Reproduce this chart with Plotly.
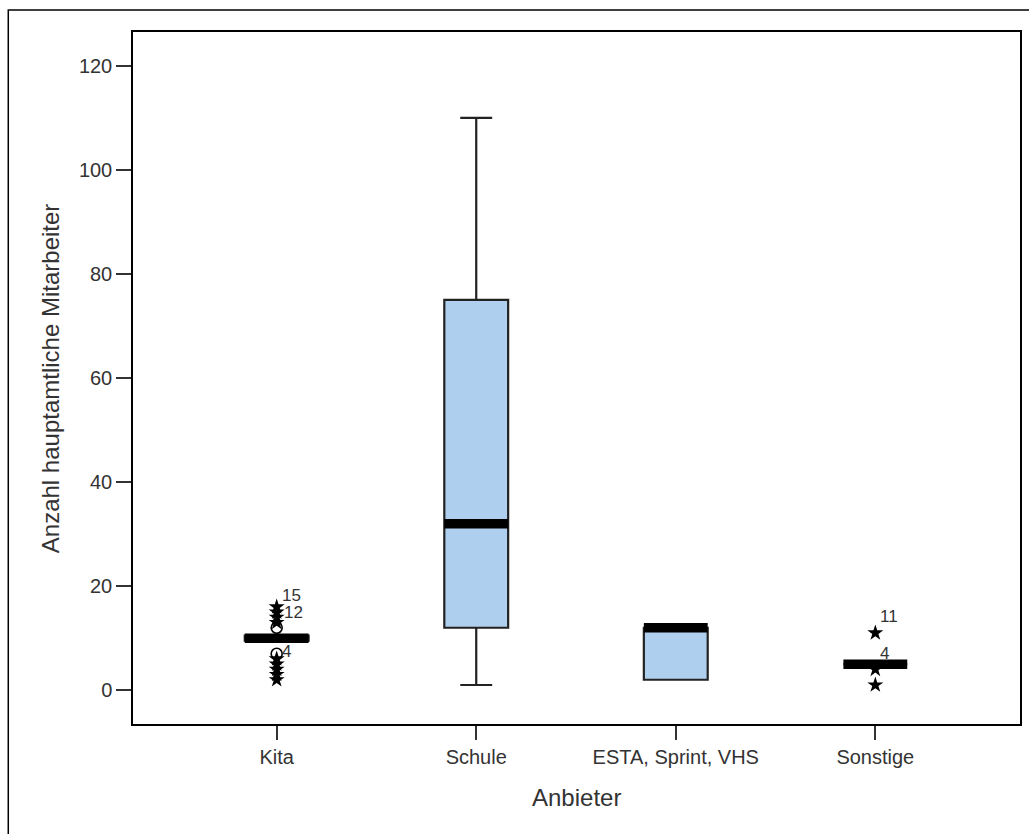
import plotly.graph_objects as go

# Anbieter categories and box statistics
categories = ["Kita", "Schule", "ESTA, Sprint, VHS", "Sonstige"]
q1 = [9.5, 12, 2, 5]
median = [10, 32, 12, 5]
q3 = [10.5, 75, 12, 5]
lower_fence = [9.5, 1, 2, 5]
upper_fence = [10.5, 110, 12, 5]

# Outliers (circles) and extreme values (stars)
circle_x = ["Kita", "Kita"]
circle_y = [12, 7]
star_x = ["Kita"] * 9 + ["Sonstige"] * 3
star_y = [13, 14, 15, 16, 6, 5, 4, 3, 2, 11, 4, 1]

# Case labels next to selected outliers
label_x = ["Kita", "Kita", "Kita", "Sonstige", "Sonstige"]
label_y = [16, 15, 7, 11, 4]
label_text = ["15", "12", "4", "11", "4"]
label_dx = [15, 17, 10, 14, 9]
label_dy = [11, 0, 2, 16, 16]

box_width = 0.32
fill = "#aecfee"
text_col = "#333333"
tick_font = dict(family="Liberation Sans, Arial, sans-serif", size=20, color=text_col)
title_font = dict(family="Liberation Sans, Arial, sans-serif", size=24, color=text_col)

fig = go.Figure()
fig.add_trace(go.Box(
    x=categories, q1=q1, median=median, q3=q3,
    lowerfence=lower_fence, upperfence=upper_fence,
    boxpoints=False, width=box_width, whiskerwidth=0.5,
    fillcolor=fill, line=dict(color="#222222", width=2.2),
    hoverinfo="skip", showlegend=False,
))
fig.add_trace(go.Scatter(
    x=circle_x, y=circle_y, mode="markers",
    marker=dict(symbol="circle-open", size=11, color="black", line=dict(width=1.6)),
    showlegend=False,
))
fig.add_trace(go.Scatter(
    x=star_x, y=star_y, mode="markers",
    marker=dict(symbol="star", size=12, color="black", line=dict(width=0)),
    showlegend=False,
))

# Thick median bars
for i, m in enumerate(median):
    fig.add_shape(type="line", xref="x", yref="y",
                  x0=i - box_width / 2, x1=i + box_width / 2, y0=m, y1=m,
                  line=dict(color="black", width=9.5), layer="above")

for cx, cy, t, dx, dy in zip(label_x, label_y, label_text, label_dx, label_dy):
    fig.add_annotation(x=cx, y=cy, text=t, showarrow=False,
                       xshift=dx, yshift=dy, font=dict(family=tick_font["family"], size=17, color=text_col))

# Axis titles
fig.add_annotation(xref="paper", yref="paper", x=(50 - 133) / 889, y=0.5,
                   text="Anzahl hauptamtliche Mitarbeiter", textangle=-90, showarrow=False,
                   xanchor="center", yanchor="middle", font=title_font)
fig.add_annotation(xref="paper", yref="paper", x=0.5, y=(724 - 797) / 692,
                   text="Anbieter", showarrow=False, xanchor="center", yanchor="middle",
                   font=title_font)

# Outer frame
fig.add_shape(type="rect", xref="paper", yref="paper",
              x0=(8 - 133) / 889, x1=1.05, y0=-0.3, y1=(724 - 10) / 692,
              line=dict(color="black", width=1.5), layer="below")

fig.update_layout(
    width=1029, height=834,
    margin=dict(l=133, r=7, t=32, b=110),
    paper_bgcolor="white", plot_bgcolor="white",
    xaxis=dict(type="category", categoryorder="array", categoryarray=categories,
               range=[-0.72, 3.725], showline=True, mirror=True, linecolor="black", linewidth=1.5,
               ticks="outside", ticklen=14, tickcolor="#333333", tickwidth=2,
               showgrid=False, zeroline=False, tickfont=tick_font),
    yaxis=dict(range=[-6.5, 126.5], tickvals=[0, 20, 40, 60, 80, 100, 120],
               showline=True, mirror=True, linecolor="black", linewidth=1.5,
               ticks="outside", ticklen=15, tickcolor="#333333", tickwidth=2,
               showgrid=False, zeroline=False, tickfont=tick_font),
)

fig.write_html("out.html")
